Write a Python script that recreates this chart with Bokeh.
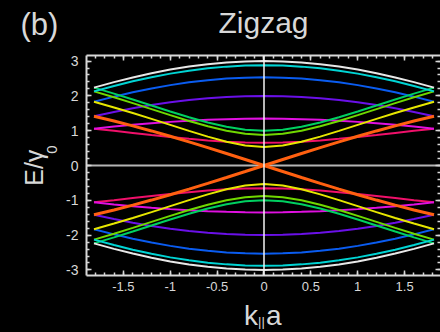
from bokeh.plotting import figure
from bokeh.models import Range1d, LinearAxis, SingleIntervalTicker, Span
from bokeh.layouts import column, row
from bokeh.core.properties import value
from bokeh.embed import file_html
from bokeh.resources import INLINE
import math

# k_|| a samples (right half; bands are symmetric in k)
K_HALF = [0.0, 0.2, 0.4, 0.6, 0.8, 1.0, 1.2, 1.4, 1.6, 1.8138]

# Upper-band energies E/gamma0 read at K_HALF (lower bands are the mirror image)
WHITE   = [3.0000, 2.9900, 2.9601, 2.9107, 2.8421, 2.7553, 2.6509, 2.5304, 2.3951, 2.2361]
CYAN    = [2.8794, 2.8696, 2.8403, 2.7919, 2.7248, 2.6396, 2.5372, 2.4187, 2.2856, 2.1289]
BLUE    = [2.5321, 2.5230, 2.4959, 2.4509, 2.3885, 2.3092, 2.2137, 2.1028, 1.9777, 1.8296]
PURPLE  = [2.0000, 1.9925, 1.9701, 1.9329, 1.8812, 1.8154, 1.7360, 1.6436, 1.5389, 1.4142]
MAGENTA = [1.3473, 1.3434, 1.3319, 1.3128, 1.2865, 1.2532, 1.2136, 1.1680, 1.1173, 1.0586]
GREEN   = [1.0000, 1.0295, 1.1125, 1.2361, 1.3864, 1.5519, 1.7241, 1.8966, 2.0648, 2.2361]
LIME    = [0.8794, 0.9108, 0.9983, 1.1267, 1.2806, 1.4481, 1.6208, 1.7927, 1.9596, 2.1289]
CRIMSON = [0.6527, 0.6606, 0.6836, 0.7195, 0.7656, 0.8189, 0.8767, 0.9365, 0.9964, 1.0586]
YELLOW  = [0.5321, 0.5735, 0.6820, 0.8292, 0.9948, 1.1671, 1.3394, 1.5075, 1.6683, 1.8296]
ORANGE  = [0.0000, 0.1730, 0.3447, 0.5138, 0.6791, 0.8392, 0.9931, 1.1395, 1.2774, 1.4142]

BANDS = [
    (CRIMSON, "#f0106a", 2),
    (MAGENTA, "#e010e0", 2),
    (PURPLE, "#6a10e8", 2),
    (BLUE, "#0a5cf0", 2),
    (YELLOW, "#e6e600", 2),
    (LIME, "#70d800", 2),
    (GREEN, "#00d060", 2),
    (CYAN, "#00d4d4", 2),
    (WHITE, "#e8e8e8", 2),
    (ORANGE, "#ff6010", 3),
]

X_TICK_VALUES = [-1.5, -1.0, -0.5, 0.0, 0.5, 1.0, 1.5]
X_TICK_LABELS = ["-1.5", "-1", "-0.5", "0", "0.5", "1", "1.5"]
Y_TICK_VALUES = [-3, -2, -1, 0, 1, 2, 3]
Y_TICK_LABELS = ["-3", "-2", "-1", "0", "1", "2", "3"]

TITLE = "Zigzag"
PANEL = "(b)"
XLABEL = ("k", "||", "a")
YLABEL = ("E/γ", "0")

FG = "#d8d8d8"
FONT = "Liberation Sans"
BG = "black"
MID = 0.3465  # middle-of-em offset above the baseline, in em

W, H = 440, 332
HEAD_H, FOOT_H, LEFT_W = 45, 32, 63
MAIN_H = H - HEAD_H - FOOT_H
MAIN_W = W - LEFT_W


def strip(w, h):
    f = figure(width=w, height=h, x_range=Range1d(0, w), y_range=Range1d(h, 0),
               output_backend="svg", toolbar_location=None,
               x_axis_location=None, y_axis_location=None, min_border=0,
               background_fill_color=BG, border_fill_color=BG, outline_line_color=None)
    f.xgrid.visible = False
    f.ygrid.visible = False
    return f


def put(f, x, y, txt, size, align="left", angle=0.0):
    f.text(x=[x], y=[y], text=[txt], angle=angle, text_font=value(FONT),
           text_font_size=f"{size}px", text_color=FG, text_align=align,
           text_baseline="middle")


# ---- header: panel letter and title (baselines at y=35 and y=32)
head = strip(W, HEAD_H)
put(head, 20, 35 - MID * 31, PANEL, 31)
put(head, 263, 32 - MID * 30, TITLE, 30, align="center")

# ---- left strip: rotated y-axis label (baselines at x=42 and x=57)
left = strip(LEFT_W, MAIN_H)
put(left, 42 - MID * 25, 196 - HEAD_H, YLABEL[0], 25, angle=math.pi / 2)
put(left, 56.5 - MID * 15, 159 - HEAD_H, YLABEL[1], 15, angle=math.pi / 2)

# ---- footer: x-axis label k_|| a (baselines at y=325 / 326)
foot = strip(W, FOOT_H)
put(foot, 243.5, 325 - H + FOOT_H - MID * 28, XLABEL[0], 28)
put(foot, 257.5, 326 - H + FOOT_H - MID * 13, XLABEL[1], 13)
put(foot, 265.5, 325 - H + FOOT_H - MID * 28, XLABEL[2], 28)

# ---- main plot
p = figure(width=MAIN_W, height=MAIN_H,
           x_range=Range1d(-1.8936, 1.8830), y_range=Range1d(-3.16, 3.16),
           output_backend="svg", toolbar_location=None,
           x_axis_location=None, y_axis_location=None,
           min_border_left=85 - LEFT_W, min_border_right=0, min_border_top=10, min_border_bottom=25,
           background_fill_color=BG, border_fill_color=BG, outline_line_color=None)
p.xgrid.visible = False
p.ygrid.visible = False

k_full = [-k for k in reversed(K_HALF)] + K_HALF[1:]

p.add_layout(Span(location=0, dimension="width", line_color="#b4b4b4", line_width=2, level="underlay"))

for vals, col, lw in BANDS:
    e_full = list(reversed(vals)) + vals[1:]
    p.line(k_full, e_full, line_color=col, line_width=lw)
    p.line(k_full, [-e for e in e_full], line_color=col, line_width=lw)

p.add_layout(Span(location=0, dimension="height", line_color="#f4f4f4", line_width=1.5))


def style_axis(ax, labels, size):
    ax.axis_line_color = FG
    ax.axis_line_width = 2
    ax.major_tick_in = 5
    ax.major_tick_out = 0
    ax.minor_tick_in = 3
    ax.minor_tick_out = 0
    ax.major_tick_line_color = FG
    ax.minor_tick_line_color = FG
    ax.major_tick_line_width = 1.5
    ax.minor_tick_line_width = 1.5
    if labels:
        ax.major_label_text_color = FG
        ax.major_label_text_font = FONT
        ax.major_label_text_font_size = size
    else:
        ax.major_label_text_font_size = "0px"
        ax.major_label_standoff = 0
        ax.major_label_text_alpha = 0


xb = LinearAxis(ticker=SingleIntervalTicker(interval=0.5, num_minor_ticks=5),
                major_label_overrides=dict(zip(X_TICK_VALUES, X_TICK_LABELS)))
style_axis(xb, True, "13px")
xb.major_label_standoff = 6
p.add_layout(xb, "below")

xt = LinearAxis(ticker=SingleIntervalTicker(interval=0.5, num_minor_ticks=5))
style_axis(xt, False, "0px")
p.add_layout(xt, "above")

yl = LinearAxis(ticker=SingleIntervalTicker(interval=1, num_minor_ticks=5),
                major_label_overrides=dict(zip(Y_TICK_VALUES, Y_TICK_LABELS)))
style_axis(yl, True, "14px")
yl.major_label_standoff = 8
p.add_layout(yl, "left")

yr = LinearAxis(ticker=SingleIntervalTicker(interval=1, num_minor_ticks=5))
style_axis(yr, False, "0px")
yr.axis_line_color = None
p.add_layout(yr, "right")

mid_row = row(left, p, styles={"background-color": BG})
layout = column(head, mid_row, foot, styles={"background-color": BG})

open("out.html", "w").write(file_html(layout, INLINE))
